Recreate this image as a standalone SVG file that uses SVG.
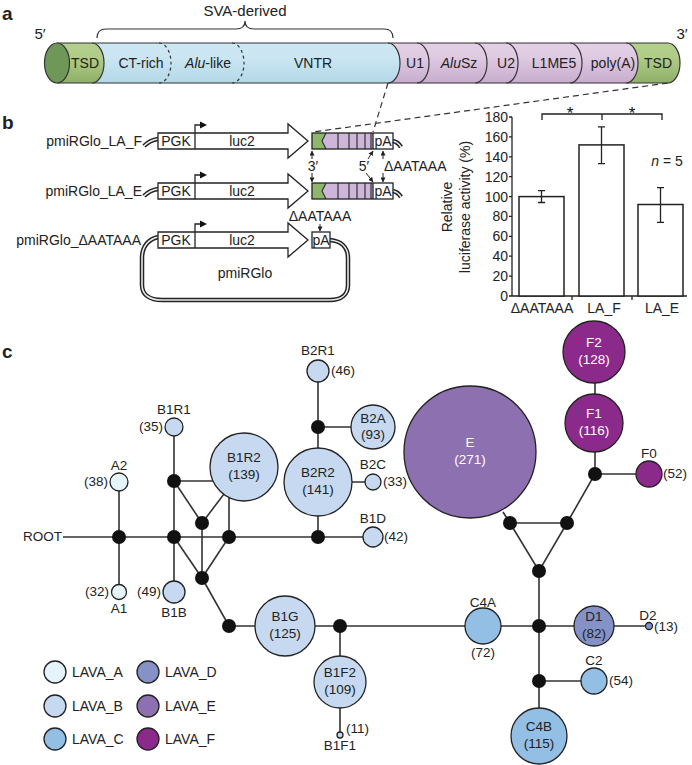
<svg xmlns="http://www.w3.org/2000/svg" width="692" height="765" viewBox="0 0 692 765">
<style>
text{font-family:"Liberation Sans",Arial,sans-serif;fill:#222}
.pl{font-size:19px;font-weight:bold}
.a{font-size:14px;text-anchor:middle}
.b{font-size:14px}
.c{font-size:13.5px}
.m{text-anchor:middle}
.e{text-anchor:end}
.w{fill:#fff}
.ln{stroke:#333;stroke-width:1.6;fill:none}
.nd{stroke:#222;stroke-width:1.3}
.j{fill:#111}
.bd{stroke:#333;stroke-width:1.2;fill:none}
.dash{stroke:#333;stroke-width:1.2;fill:none;stroke-dasharray:3 3}
.box{fill:#fff;stroke:#222;stroke-width:1.3}
.bb1{stroke:#222;stroke-width:4.5;fill:none}
.bb2{stroke:#e8e8e8;stroke-width:1.6;fill:none}
.ax{stroke:#222;stroke-width:1.3;fill:none}
.la{fill:#e6f3fb}.lb{fill:#c6d9f0}.lc{fill:#93bfe5}.ld{fill:#8592c8}.le{fill:#8d70b0}.lf{fill:#8c2a8c}
</style>
<defs>
<linearGradient id="gG" x1="0" y1="0" x2="0" y2="1"><stop offset="0" stop-color="#b4cf8e"/><stop offset="0.35" stop-color="#b0cc88"/><stop offset="1" stop-color="#8fb068"/></linearGradient>
<linearGradient id="gB" x1="0" y1="0" x2="0" y2="1"><stop offset="0" stop-color="#cde8f3"/><stop offset="0.35" stop-color="#cbe6f2"/><stop offset="1" stop-color="#b3d8e8"/></linearGradient>
<linearGradient id="gP" x1="0" y1="0" x2="0" y2="1"><stop offset="0" stop-color="#e2cfe5"/><stop offset="0.35" stop-color="#dfcae2"/><stop offset="1" stop-color="#c8acce"/></linearGradient>
<marker id="ah" viewBox="0 0 6 6" refX="5.5" refY="3" markerWidth="5" markerHeight="5" orient="auto-start-reverse"><path d="M0,0 L6,3 L0,6 Z" fill="#222"/></marker>
</defs>

<!-- Panel a -->
<g id="panel-a">
<text class="pl" x="2" y="20">a</text>
<text class="a" x="245" y="16" style="font-size:15px">SVA-derived</text>
<path class="bd" d="M97,38 Q97,29 106,29 H236 Q245,29 245,21 Q245,29 254,29 H384 Q393,29 393,38"/>
<text class="a" x="40" y="39" style="font-size:15px">5′</text>
<text class="a" x="682" y="39" style="font-size:15px">3′</text>
<path d="M57,43 H92 A12,20 0 0 1 92,83 H57 A12,20 0 0 0 57,43 Z" fill="url(#gG)"/>
<path d="M92,43 H388 A12,20 0 0 1 388,83 H92 A12,20 0 0 0 92,43 Z" fill="url(#gB)"/>
<path d="M388,43 H626 A12,20 0 0 1 626,83 H388 A12,20 0 0 0 388,43 Z" fill="url(#gP)"/>
<path d="M626,43 H668 A12,20 0 0 1 668,83 H626 A12,20 0 0 0 626,43 Z" fill="url(#gG)"/>
<path class="bd" d="M57,43 H668 A12,20 0 0 1 668,83 H57"/>
<ellipse cx="57" cy="63" rx="12.5" ry="20" fill="#6f9757" stroke="#333" stroke-width="1.2"/>
<path class="bd" d="M92,43 A12,20 0 0 1 92,83 M388,43 A12,20 0 0 1 388,83 M417,43 A12,20 0 0 1 417,83 M475,43 A12,20 0 0 1 475,83 M506,43 A12,20 0 0 1 506,83 M570,43 A12,20 0 0 1 570,83 M626,43 A12,20 0 0 1 626,83"/>
<path class="dash" d="M159,43 A12,20 0 0 1 159,83 M232,43 A12,20 0 0 1 232,83"/>
<text class="a" x="85" y="68">TSD</text>
<text class="a" x="141" y="68">CT-rich</text>
<text class="a" x="208" y="68"><tspan font-style="italic">Alu</tspan>-like</text>
<text class="a" x="313" y="68">VNTR</text>
<text class="a" x="415" y="68">U1</text>
<text class="a" x="459" y="68"><tspan font-style="italic">Alu</tspan>Sz</text>
<text class="a" x="506" y="68">U2</text>
<text class="a" x="554" y="68">L1ME5</text>
<text class="a" x="613" y="68">poly(A)</text>
<text class="a" x="658" y="68">TSD</text>
<path d="M388,83 L373,132 M668,83 L313,132" stroke="#333" stroke-width="1.2" stroke-dasharray="6 4" fill="none"/>
</g>

<!-- Panel b constructs -->
<g id="panel-b">
<text class="pl" x="2" y="129">b</text>
</g>
<g id="construct-LA_F">
<text class="b e" x="142" y="146">pmiRGlo_LA_F</text>
<path class="bb1" d="M158,139 Q150,140 144,146 M393,141 Q398,142 401,147"/>
<path class="bb2" d="M158,139 Q150,140 144,146 M393,141 Q398,142 401,147"/>
<polygon class="box" points="158,133 288,133 288,124 308,141 288,158 288,149 158,149"/>
<line x1="195" y1="133" x2="195" y2="149" stroke="#222" stroke-width="1.3"/>
<path d="M195,133 V125 H201" stroke="#222" stroke-width="1.3" fill="none"/><polygon points="200,121.5 207,125 200,128.5" fill="#111"/>
<text class="b m" x="176" y="146">PGK</text><text class="b m" x="242" y="146">luc2</text>
<polygon points="312,133 326,133 322,141 326,149 312,149" fill="#8db86c"/>
<polygon points="326,133 373,133 373,149 326,149 322,141" fill="#cdb6d9"/>
<path d="M326,133 L322,141 L326,149 M338,133 V149 M349,133 V149 M357,133 V149 M365,133 V149 M371,133 V149" stroke="#333" stroke-width="1.2" fill="none"/>
<rect x="312" y="133" width="81" height="16" fill="none" stroke="#222" stroke-width="1.3"/>
<line x1="373" y1="133" x2="373" y2="149" stroke="#222" stroke-width="1.3"/>
<text class="b m" x="383" y="146">pA</text>
</g>
<g id="construct-LA_E">
<text class="b e" x="142" y="196">pmiRGlo_LA_E</text>
<path class="bb1" d="M158,189 Q150,190 144,196 M393,191 Q398,192 401,197"/>
<path class="bb2" d="M158,189 Q150,190 144,196 M393,191 Q398,192 401,197"/>
<polygon class="box" points="158,183 288,183 288,174 308,191 288,208 288,199 158,199"/>
<line x1="195" y1="183" x2="195" y2="199" stroke="#222" stroke-width="1.3"/>
<path d="M195,183 V175 H201" stroke="#222" stroke-width="1.3" fill="none"/><polygon points="200,171.5 207,175 200,178.5" fill="#111"/>
<text class="b m" x="176" y="196">PGK</text><text class="b m" x="242" y="196">luc2</text>
<polygon points="312,183 326,183 322,191 326,199 312,199" fill="#8db86c"/>
<polygon points="326,183 373,183 373,199 326,199 322,191" fill="#cdb6d9"/>
<path d="M326,183 L322,191 L326,199 M338,183 V199 M349,183 V199 M357,183 V199 M365,183 V199 M371,183 V199" stroke="#333" stroke-width="1.2" fill="none"/>
<rect x="312" y="183" width="81" height="16" fill="none" stroke="#222" stroke-width="1.3"/>
<line x1="373" y1="183" x2="373" y2="199" stroke="#222" stroke-width="1.3"/>
<text class="b m" x="383" y="196">pA</text>
</g>
<g id="construct-dAATAAA">
<text class="b e" x="141" y="245">pmiRGlo_ΔAATAAA</text>
<path class="bb1" d="M158,237 C149,239 142,246 142,258 V285 C142,295 150,300 162,300 H330 C342,300 348,294 348,285 V258 C348,247 341,241 330,240"/>
<path class="bb2" d="M158,237 C149,239 142,246 142,258 V285 C142,295 150,300 162,300 H330 C342,300 348,294 348,285 V258 C348,247 341,241 330,240"/>
<polygon class="box" points="158,232 288,232 288,223 308,240 288,257 288,248 158,248"/>
<line x1="195" y1="232" x2="195" y2="248" stroke="#222" stroke-width="1.3"/>
<path d="M195,232 V224 H201" stroke="#222" stroke-width="1.3" fill="none"/><polygon points="200,220.5 207,224 200,227.5" fill="#111"/>
<text class="b m" x="176" y="245">PGK</text><text class="b m" x="242" y="245">luc2</text>
<rect class="box" x="312" y="232" width="18" height="16"/>
<text class="b m" x="321" y="245">pA</text>
<text class="b m" x="245" y="278">pmiRGlo</text>
<text class="b m" x="320" y="221">ΔAATAAA</text>
<line x1="320" y1="224" x2="320" y2="231" stroke="#222" stroke-width="1" marker-end="url(#ah)"/>
</g>
<g id="b-annotations">
<line x1="312" y1="159" x2="312" y2="151" stroke="#222" stroke-width="1" marker-end="url(#ah)"/>
<line x1="312" y1="173" x2="312" y2="182" stroke="#222" stroke-width="1" marker-end="url(#ah)"/>
<text class="b m" x="313" y="171">3′</text>
<line x1="368" y1="159" x2="373" y2="151" stroke="#222" stroke-width="1" marker-end="url(#ah)"/>
<line x1="366" y1="173" x2="373" y2="182" stroke="#222" stroke-width="1" marker-end="url(#ah)"/>
<text class="b m" x="364" y="171">5′</text>
<line x1="383" y1="159" x2="383" y2="151" stroke="#222" stroke-width="1" marker-end="url(#ah)"/>
<line x1="383" y1="173" x2="383" y2="182" stroke="#222" stroke-width="1" marker-end="url(#ah)"/>
<text class="b" x="384" y="171">ΔAATAAA</text>
</g>

<!-- Panel b chart -->
<g id="chart">
<path class="ax" d="M512,117 V296 H687 M509,117 H512 M509,136.9 H512 M509,156.8 H512 M509,176.7 H512 M509,196.6 H512 M509,216.4 H512 M509,236.3 H512 M509,256.2 H512 M509,276.1 H512 M509,296 H512 M572,296 V300 M632,296 V300"/>
<g class="b e">
<text x="508" y="122">180</text><text x="508" y="141.9">160</text><text x="508" y="161.8">140</text><text x="508" y="181.7">120</text><text x="508" y="201.6">100</text><text x="508" y="221.4">80</text><text x="508" y="241.3">60</text><text x="508" y="261.2">40</text><text x="508" y="281.1">20</text><text x="508" y="301">0</text>
</g>
<rect x="519" y="196.6" width="45" height="99.4" fill="#fff" stroke="#222" stroke-width="1.5"/>
<rect x="579" y="144.9" width="45" height="151.1" fill="#fff" stroke="#222" stroke-width="1.5"/>
<rect x="638" y="204.5" width="45" height="91.5" fill="#fff" stroke="#222" stroke-width="1.5"/>
<path class="ax" d="M541.5,190.6 V202.5 M538,190.6 H545 M538,202.5 H545 M601.5,126.9 V163.7 M598,126.9 H605 M598,163.7 H605 M660.5,187.6 V222.4 M657,187.6 H664 M657,222.4 H664"/>
<path class="ax" d="M542,120 V114 H662 V120 M602,114 V120"/>
<text class="m" x="570" y="119" style="font-size:17px;fill:#111">*</text><text class="m" x="632" y="119" style="font-size:17px;fill:#111">*</text>
<text class="b m" x="667" y="166"><tspan font-style="italic">n</tspan> = 5</text>
<text class="b m" x="542" y="313">ΔAATAAA</text><text class="b m" x="604" y="313">LA_F</text><text class="b m" x="662" y="313">LA_E</text>
<text class="b m" transform="translate(452,207) rotate(-90)">Relative</text>
<text class="b m" transform="translate(470,207) rotate(-90)">luciferase activity (%)</text>
</g>

<!-- Panel c -->
<text class="pl" x="2" y="358">c</text>
<g id="connectors">
<path class="ln" d="M63,537 H363 M119,491 V584 M174,436 V581 M174,481 H213 M174,481 L202,523 L224,494 M202,523 V578 M174,537 L202,578 L229,537 V498 M202,578 L229,626 H646 M318,382 V448 M318,427 H351 M318,516 V537 M352,482 H365 M340,626 V656 M340,708 V732 M510,523 L503,512 M510,523 H567 L539,571 L510,523 M567,523 L595,474 V452 M595,394 V383 M595,474 H636 M539,571 V708 M539,681 H581"/>
</g>
<g id="junctions" class="j">
<circle cx="119" cy="537" r="7"/><circle cx="174" cy="481" r="7"/><circle cx="174" cy="537" r="7"/><circle cx="202" cy="523" r="7"/><circle cx="202" cy="578" r="7"/><circle cx="229" cy="537" r="7"/><circle cx="229" cy="626" r="7"/><circle cx="318" cy="427" r="7"/><circle cx="318" cy="537" r="7"/><circle cx="340" cy="626" r="7"/><circle cx="510" cy="523" r="7"/><circle cx="567" cy="523" r="7"/><circle cx="539" cy="571" r="7"/><circle cx="595" cy="474" r="7"/><circle cx="539" cy="626" r="7"/><circle cx="539" cy="681" r="7"/>
</g>
<text class="c e" x="62" y="541">ROOT</text>
<g id="A2"><circle class="nd la" cx="119" cy="482" r="9"/><text class="c m" x="119" y="470">A2</text><text class="c e" x="108" y="486">(38)</text></g>
<g id="A1"><circle class="nd la" cx="119" cy="592" r="7.5"/><text class="c m" x="119" y="613">A1</text><text class="c e" x="109" y="596">(32)</text></g>
<g id="B1R1"><circle class="nd lb" cx="174" cy="427" r="9"/><text class="c m" x="174" y="414">B1R1</text><text class="c e" x="163" y="431">(35)</text></g>
<g id="B1B"><circle class="nd lb" cx="174" cy="592" r="11"/><text class="c m" x="174" y="617">B1B</text><text class="c e" x="161" y="596">(49)</text></g>
<g id="B1R2"><circle class="nd lb" cx="244" cy="467" r="34"/><text class="c m" x="244" y="462">B1R2</text><text class="c m" x="244" y="479">(139)</text></g>
<g id="B2R2"><circle class="nd lb" cx="318" cy="482" r="34"/><text class="c m" x="318" y="477">B2R2</text><text class="c m" x="318" y="494">(141)</text></g>
<g id="B2R1"><circle class="nd lb" cx="318" cy="371" r="11"/><text class="c m" x="318" y="355">B2R1</text><text class="c" x="331" y="375">(46)</text></g>
<g id="B2A"><circle class="nd lb" cx="373" cy="427" r="22"/><text class="c m" x="373" y="423">B2A</text><text class="c m" x="373" y="439">(93)</text></g>
<g id="B2C"><circle class="nd lb" cx="373" cy="482" r="8"/><text class="c m" x="373" y="469">B2C</text><text class="c" x="383" y="486">(33)</text></g>
<g id="B1D"><circle class="nd lb" cx="373" cy="537" r="10"/><text class="c m" x="373" y="523">B1D</text><text class="c" x="384" y="541">(42)</text></g>
<g id="B1G"><circle class="nd lb" cx="285" cy="626" r="30"/><text class="c m" x="285" y="621">B1G</text><text class="c m" x="285" y="638">(125)</text></g>
<g id="B1F2"><circle class="nd lb" cx="340" cy="682" r="26"/><text class="c m" x="340" y="677">B1F2</text><text class="c m" x="340" y="694">(109)</text></g>
<g id="B1F1"><circle class="nd lb" cx="340" cy="735" r="3"/><text class="c m" x="340" y="750">B1F1</text><text class="c" x="346" y="733">(11)</text></g>
<g id="E"><circle class="nd le" cx="470" cy="452" r="66"/><text class="c m w" x="470" y="447">E</text><text class="c m w" x="470" y="464">(271)</text></g>
<g id="F2"><circle class="nd lf" cx="594" cy="352" r="31"/><text class="c m w" x="594" y="347">F2</text><text class="c m w" x="594" y="364">(128)</text></g>
<g id="F1"><circle class="nd lf" cx="594" cy="423" r="29"/><text class="c m w" x="594" y="418">F1</text><text class="c m w" x="594" y="435">(116)</text></g>
<g id="F0"><circle class="nd lf" cx="649" cy="474" r="13"/><text class="c m" x="649" y="458">F0</text><text class="c" x="663" y="478">(52)</text></g>
<g id="C4A"><circle class="nd lc" cx="483" cy="626" r="18"/><text class="c m" x="483" y="607">C4A</text><text class="c m" x="483" y="657">(72)</text></g>
<g id="D1"><circle class="nd ld" cx="594" cy="626" r="20"/><text class="c m" x="594" y="621">D1</text><text class="c m" x="594" y="638">(82)</text></g>
<g id="D2"><circle class="nd ld" cx="649" cy="626" r="3.5"/><text class="c m" x="648" y="620">D2</text><text class="c" x="654" y="631">(13)</text></g>
<g id="C2"><circle class="nd lc" cx="594" cy="681" r="13"/><text class="c m" x="594" y="665">C2</text><text class="c" x="609" y="685">(54)</text></g>
<g id="C4B"><circle class="nd lc" cx="539" cy="736" r="28"/><text class="c m" x="539" y="731">C4B</text><text class="c m" x="539" y="748">(115)</text></g>

<g id="legend">
<circle class="nd la" cx="55" cy="672" r="11"/><text class="b" x="72" y="677">LAVA_A</text>
<circle class="nd lb" cx="55" cy="706" r="11"/><text class="b" x="72" y="711">LAVA_B</text>
<circle class="nd lc" cx="55" cy="739" r="11"/><text class="b" x="72" y="744">LAVA_C</text>
<circle class="nd ld" cx="148" cy="672" r="11"/><text class="b" x="165" y="677">LAVA_D</text>
<circle class="nd le" cx="148" cy="706" r="11"/><text class="b" x="165" y="711">LAVA_E</text>
<circle class="nd lf" cx="148" cy="739" r="11"/><text class="b" x="165" y="744">LAVA_F</text>
</g>
</svg>
